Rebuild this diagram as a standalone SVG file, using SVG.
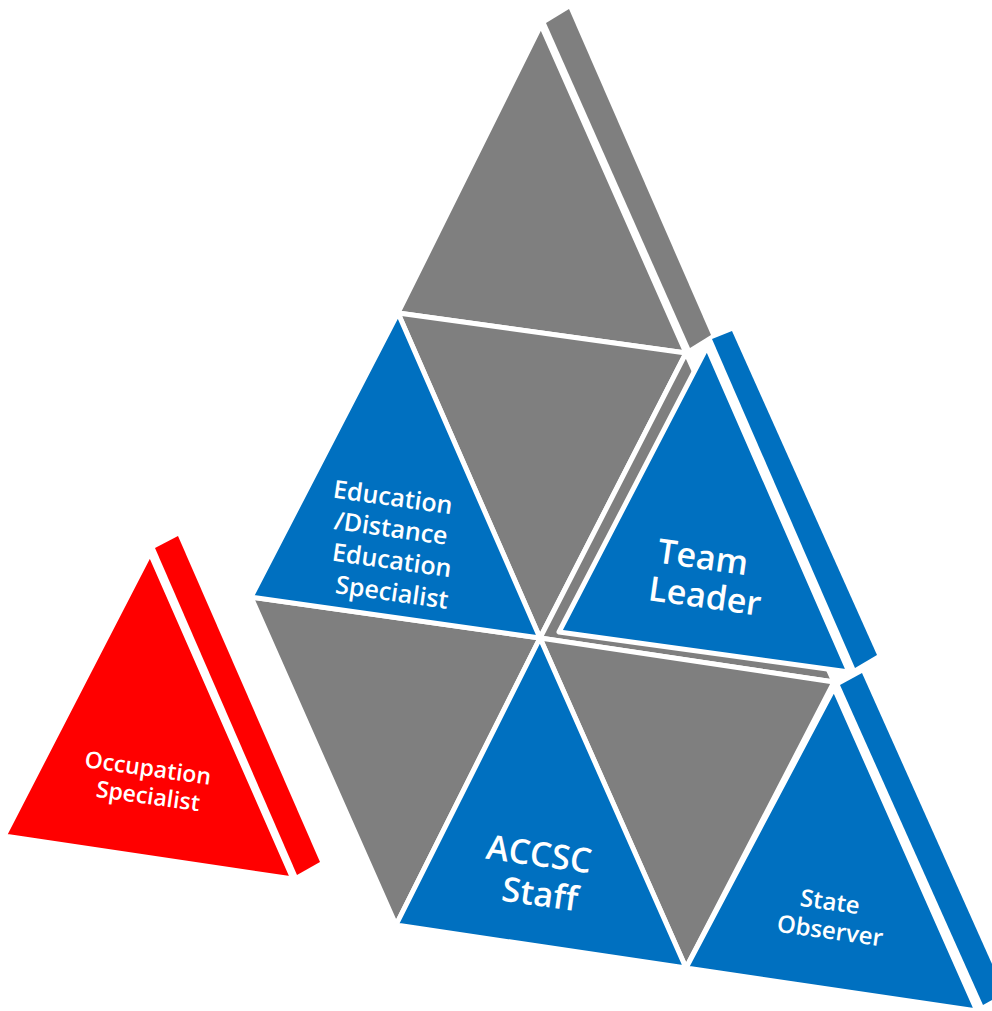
<svg xmlns="http://www.w3.org/2000/svg" width="992" height="1011" viewBox="0 0 992 1011">
  <style>
    .g { fill: #7f7f7f; }
    .b { fill: #0070c0; }
    .r { fill: #ff0000; }
    .face { stroke: #ffffff; stroke-width: 5; stroke-linejoin: round; }
    .lbl { fill: #ffffff; font-family: "Open Sans", "Liberation Sans", sans-serif; font-weight: 600; text-anchor: middle; }
  </style>
  <rect width="992" height="1011" fill="#ffffff"/>

  <!-- lattice gray slots -->
  <g id="top-gray">
    <polygon class="g" points="546,23 569,9 711,335 690,348"/>
    <polygon class="g face" points="541,25 398,313 686,353"/>
  </g>
  <g id="gray-middle">
    <polygon class="g face" points="398,313 686,353 540,638"/>
  </g>
  <g id="gray-team-slot">
    <polygon class="g face" points="686,353 540,638 834,682"/>
  </g>
  <g id="gray-left">
    <polygon class="g face" points="251,597 540,638 396,925"/>
  </g>
  <g id="gray-right">
    <polygon class="g face" points="540,638 834,682 686,968"/>
  </g>

  <g id="education-specialist">
    <polygon class="b face" points="398,313 251,597 540,638"/>
    <text class="lbl" font-size="25" transform="translate(393,497) rotate(8)" y="9">Education</text>
    <text class="lbl" font-size="25" transform="translate(391,528) rotate(8)" y="9">/Distance</text>
    <text class="lbl" font-size="25" transform="translate(392,560) rotate(8)" y="9">Education</text>
    <text class="lbl" font-size="25" transform="translate(392,592) rotate(8)" y="9">Specialist</text>
  </g>

  <g id="team-leader">
    <polygon class="b" points="712,339 732,331 877,655 855,668"/>
    <polygon class="b face" points="707,347 559,632 849,672"/>
    <text class="lbl" font-size="34" transform="translate(703,557) rotate(8)" y="12">Team</text>
    <text class="lbl" font-size="34" transform="translate(705,596) rotate(8)" y="12">Leader</text>
  </g>

  <g id="accsc-staff">
    <polygon class="b face" points="540,638 396,925 686,968"/>
    <text class="lbl" font-size="34" transform="translate(539,854) rotate(8)" y="12">ACCSC</text>
    <text class="lbl" font-size="34" transform="translate(540,894) rotate(8)" y="12">Staff</text>
  </g>

  <g id="state-observer">
    <polygon class="b" points="840,685 862,673 1005,993 983,1005"/>
    <polygon class="b face" points="834,688 686,968 977,1011"/>
    <text class="lbl" font-size="24" transform="translate(830,902) rotate(8)" y="8">State</text>
    <text class="lbl" font-size="24" transform="translate(830,931) rotate(8)" y="8">Observer</text>
  </g>

  <g id="occupation-specialist">
    <polygon class="r" points="155,548 178,536 320,862 297,875"/>
    <polygon class="r face" points="150,553 4,836 293,879"/>
    <text class="lbl" font-size="23" transform="translate(148,768) rotate(8)" y="8">Occupation</text>
    <text class="lbl" font-size="23" transform="translate(148,796) rotate(8)" y="8">Specialist</text>
  </g>
</svg>
